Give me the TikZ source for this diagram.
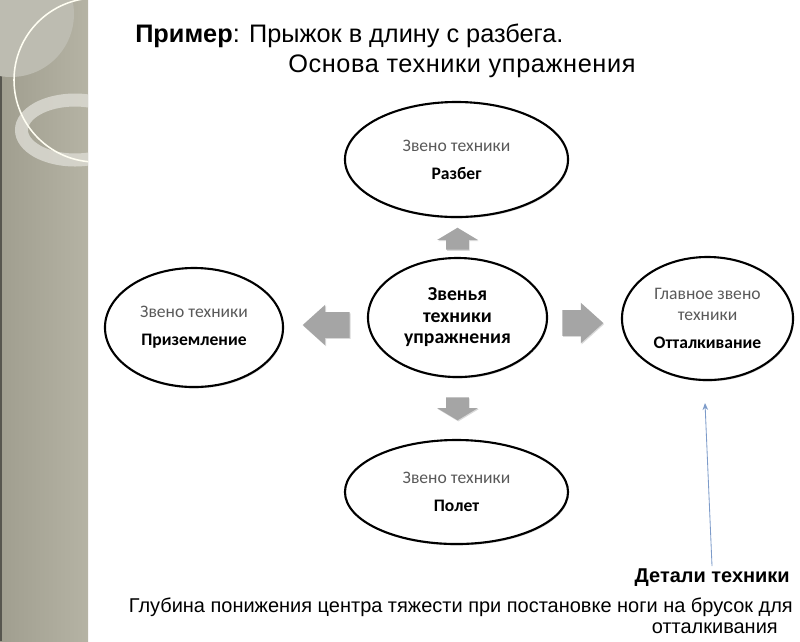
\documentclass[tikz,border=0pt]{standalone}
\usepackage{fontspec}
\setmainfont{Carlito}
\newfontfamily\arialfont{Liberation Sans}
\usetikzlibrary{shapes.geometric,shapes.arrows,shadows,arrows.meta}
\definecolor{band}{HTML}{A09E8F}
\definecolor{bandlt}{HTML}{B5B3A4}
\definecolor{banddk}{HTML}{57564F}
\definecolor{capc}{HTML}{BDBCB1}
\definecolor{ringc}{HTML}{DAD9D1}
\definecolor{muted}{HTML}{595959}
\definecolor{blockc}{HTML}{A5A5A5}
\definecolor{pinc}{HTML}{7D9BC9}
\tikzset{
  link/.style={ellipse, draw=black, line width=1.5pt, fill=white, align=center, inner sep=0pt,
    font=\fontsize{12.5}{15}\selectfont,
    drop shadow={shadow xshift=0.6pt, shadow yshift=-1pt, opacity=0.35}},
  core/.style={link, font=\bfseries\fontsize{14}{15.3}\selectfont},
  harr/.style={single arrow, fill=blockc, draw=none, inner xsep=0pt, inner ysep=0.3125cm,
    single arrow head extend=0.1875cm, single arrow tip angle=84, minimum height=1.1cm,
    drop shadow={shadow xshift=0.6pt, shadow yshift=-0.8pt, opacity=0.3}},
  varr/.style={harr, inner ysep=0.275cm, single arrow head extend=0.225cm,
    single arrow tip angle=118, minimum height=0.6cm},
  ttl/.style={font=\arialfont\fontsize{18}{21}\selectfont, inner sep=0pt},
  note/.style={font=\arialfont\fontsize{14.2}{17}\selectfont, inner sep=0pt},
  pin/.style={draw=pinc, line width=0.6pt, -{Stealth[length=5pt,width=4pt]}}
}
\newcommand{\sub}[1]{{\color{muted}#1}}

\begin{document}
\begin{tikzpicture}[x=0.025cm,y=-0.025cm]
\useasboundingbox (0,0) rectangle (800,641);

% side band
\begin{scope}
\clip (0,0) rectangle (88,641);
\fill[left color=band, right color=bandlt] (0,0) rectangle (88,641);
\fill[banddk] (0,76) rectangle (2,641);
\fill[capc] (11,14) circle [radius=63];
\draw[ringc, opacity=0.85, line width=0.325cm] (75,130) ellipse [x radius=53.5, y radius=30];
\draw[white!95!yellow, line width=1.1pt] (96,80) circle [radius=82];
\end{scope}

% title
\node[ttl, anchor=base west] (ttlA) at (135,42) {\textbf{Пример}: Прыжок в длину с разбега.};
\node[ttl, anchor=base west] (ttlB) at (288,72) {\addfontfeature{LetterSpace=2.4}Основа техники упражнения};

% links of the technique
\node[core, minimum width=4.475cm, minimum height=2.975cm] (hub) at (457.5,317.5)
  {Звенья\\техники\\упражнения};
\node[link, minimum width=5.575cm, minimum height=2.875cm] (runup) at (456.5,159.5)
  {\sub{Звено техники}\\[5pt]\textbf{Разбег}};
\node[link, minimum width=4.275cm, minimum height=3.075cm] (takeoff) at (707.5,318.5)
  {\sub{Главное звено}\\\sub{техники}\\[5pt]\textbf{Отталкивание}};
\node[link, minimum width=4.45cm, minimum height=2.975cm] (landing) at (194,327.5)
  {\sub{Звено техники}\\[5pt]\textbf{Приземление}};
\node[link, minimum width=5.575cm, minimum height=2.6cm] (flight) at (456.5,492)
  {\sub{Звено техники}\\[5pt]\textbf{Полет}};

% block arrows
\node[varr, rotate=90, anchor=tail, minimum height=0.55cm] (toUp) at (457.5,250) {};
\node[varr, rotate=-90, anchor=tail, minimum height=0.575cm] (toDown) at (457.5,397) {};
\node[harr, anchor=tail, minimum height=1.025cm] (toRight) at (562,323) {};
\node[harr, rotate=180, anchor=tail, minimum height=1.175cm] (toLeft) at (350,325) {};

% details
\node[note, anchor=base east] (det) at (790,582) {\bfseries Детали техники};
\node[note, anchor=base east] (depth) at (793,612)
  {Глубина понижения центра тяжести при постановке ноги на брусок для};
\node[note, anchor=base east] (depthB) at (778,633) {отталкивания};
\coordinate (pinTail) at (712,566);
\coordinate (pinHead) at (705,403);
\draw[pin] (pinTail) -- (pinHead);
\end{tikzpicture}
\end{document}
